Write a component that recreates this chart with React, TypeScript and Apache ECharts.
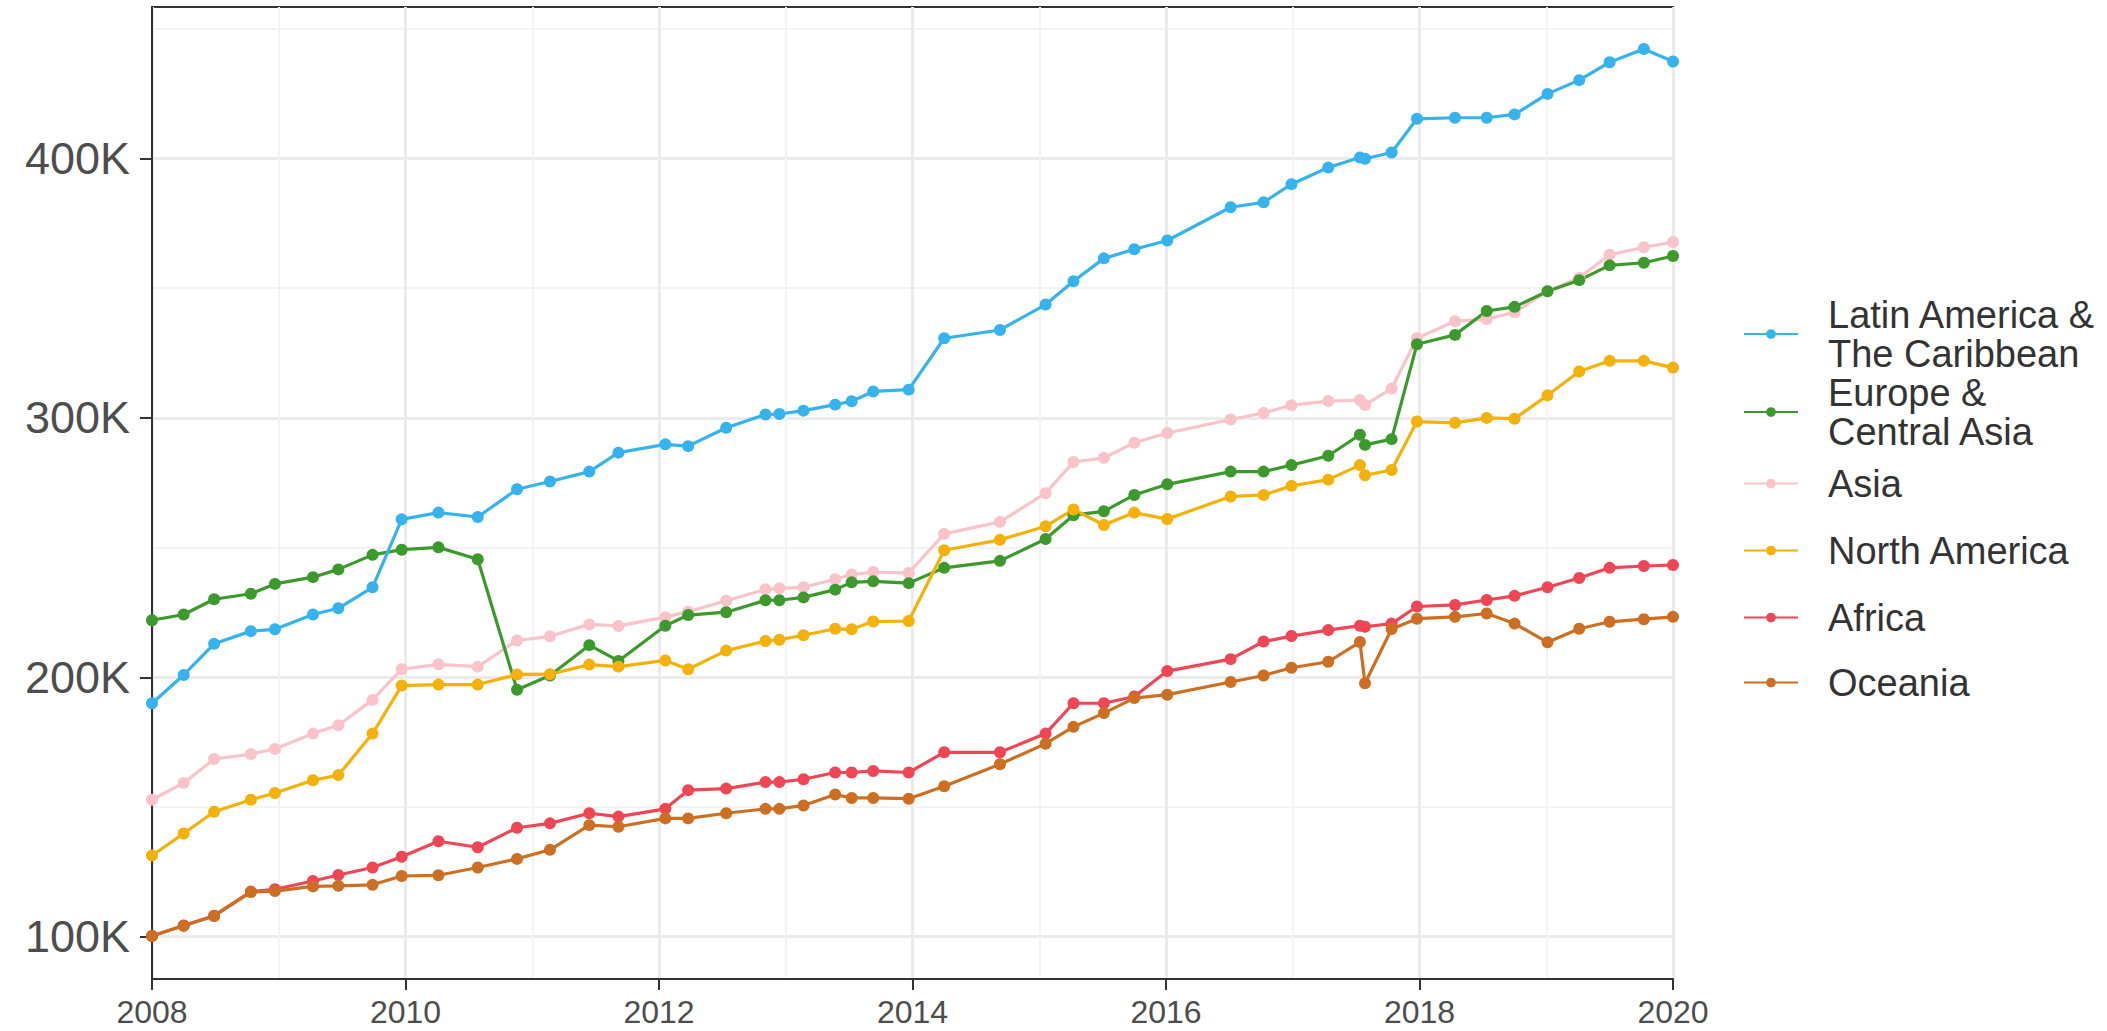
import React, { useEffect, useRef } from "react";
import * as echarts from "echarts";

// Decimal-year observation dates
const dates: number[] = [
  2008.0, 2008.25, 2008.49, 2008.78, 2008.97, 2009.27, 2009.47, 2009.74, 2009.97, 2010.26,
  2010.57, 2010.88, 2011.14, 2011.45, 2011.68, 2012.05, 2012.23, 2012.53, 2012.84, 2012.95,
  2013.14, 2013.39, 2013.52, 2013.69, 2013.97, 2014.25, 2014.69, 2015.05, 2015.27, 2015.51,
  2015.75, 2016.01, 2016.51, 2016.77, 2016.99, 2017.28, 2017.53, 2017.57, 2017.78, 2017.98,
  2018.28, 2018.53, 2018.75, 2019.01, 2019.26, 2019.5, 2019.77, 2020.0,
];

const latinAmerica: number[] = [
  190000, 200900, 212900, 217800, 218500, 224200, 226600, 234700, 260900, 263500,
  261800, 272500, 275500, 279300, 286600, 289800, 289100, 296200, 301300, 301500,
  302800, 305100, 306400, 310200, 310900, 330700, 333900, 343700, 352700, 361500,
  365000, 368400, 381200, 383100, 390100, 396500, 400400, 399900, 402300, 415300,
  415700, 415700, 417000, 424900, 430200, 437100, 442200, 437400,
];

const europe: number[] = [
  222000, 224200, 230100, 232200, 236000, 238600, 241600, 247200, 249200, 250100,
  245500, 195200, 200700, 212400, 206300, 219900, 224000, 225100, 229700, 229700,
  230800, 233800, 236600, 237000, 236300, 242200, 244900, 253300, 262500, 264000,
  270300, 274400, 279300, 279300, 281800, 285400, 293500, 289600, 291800, 328400,
  332000, 341200, 342800, 348800, 353100, 358800, 359800, 362400,
];

const asia: number[] = [
  152800, 159300, 168500, 170400, 172400, 178300, 181500, 191300, 203100, 205000,
  204100, 214200, 215800, 220400, 219800, 223200, 225300, 229500, 233900, 234300,
  234700, 237800, 239600, 240600, 240200, 255300, 259900, 271000, 283000, 284600,
  290400, 294200, 299400, 301900, 304900, 306500, 306900, 305000, 311300, 330700,
  337300, 338100, 340700, 348800, 354000, 362900, 365800, 367800,
];

const northAmerica: number[] = [
  131300, 139800, 148200, 152800, 155400, 160300, 162300, 178300, 196800, 197200,
  197200, 201100, 201200, 204900, 204100, 206500, 203100, 210300, 214000, 214500,
  216200, 218700, 218500, 221500, 221700, 249000, 253000, 258200, 264700, 258700,
  263500, 261000, 269700, 270300, 273800, 276200, 281800, 277900, 279900, 298600,
  298100, 300000, 299700, 308700, 317900, 322000, 322000, 319400,
];

const africa: number[] = [
  100300, 104300, 108100, 117400, 118300, 121500, 123800, 126700, 130800, 136800,
  134500, 142000, 143700, 147600, 146300, 149300, 156500, 157100, 159600, 159600,
  160700, 163300, 163300, 163900, 163300, 171100, 171100, 178300, 190000, 190000,
  192600, 202400, 207000, 213800, 215900, 218200, 219900, 219500, 220700, 227300,
  227900, 229800, 231400, 234700, 238300, 242200, 242900, 243300,
];

const oceania: number[] = [
  100300, 104200, 108000, 117200, 117600, 119400, 119600, 120000, 123400, 123700,
  126700, 130000, 133500, 143000, 142400, 145600, 145600, 147600, 149300, 149300,
  150600, 154800, 153500, 153500, 153200, 158000, 166500, 174400, 180900, 186200,
  192000, 193300, 198200, 200700, 203700, 206000, 213600, 197700, 218600, 222600,
  223300, 224600, 220700, 213500, 218700, 221400, 222400, 223300,
];

const yMajorTicks: number[] = [100000, 200000, 300000, 400000];
const yMinorTicks: number[] = [150000, 250000, 350000, 450000];

// Drawing order (later on top), alphabetical like ggplot
const seriesDefs = [
  { name: "Africa", values: africa, color: "#ef4656" },
  { name: "Asia", values: asia, color: "#f9c3c9" },
  { name: "Europe & Central Asia", values: europe, color: "#3c9a2c" },
  { name: "Latin America & The Caribbean", values: latinAmerica, color: "#36b2ec" },
  { name: "North America", values: northAmerica, color: "#f4b10b" },
  { name: "Oceania", values: oceania, color: "#cd6f22" },
];

// Legend order and display labels
const legendOrder: string[] = [
  "Latin America & The Caribbean",
  "Europe & Central Asia",
  "Asia",
  "North America",
  "Africa",
  "Oceania",
];
const legendLabels: Record<string, string> = {
  "Latin America & The Caribbean": "Latin America &\nThe Caribbean",
  "Europe & Central Asia": "Europe &\nCentral Asia",
  Asia: "Asia",
  "North America": "North America",
  Africa: "Africa",
  Oceania: "Oceania",
};
const legendTops: number[] = [295, 373, 464, 531, 598, 663];

const FONT = "'Liberation Sans', Arial, Helvetica, sans-serif";

export default function App() {
  const ref = useRef<HTMLDivElement>(null);

  useEffect(() => {
    if (!ref.current) return;
    const chart = echarts.init(ref.current, undefined, { renderer: "svg" });

    const series = seriesDefs.map((s) => ({
      name: s.name,
      type: "line",
      data: dates.map((d, i) => [d, s.values[i]]),
      symbol: "circle",
      symbolSize: 12,
      showSymbol: true,
      color: s.color,
      lineStyle: { width: 3.2, color: s.color },
      itemStyle: { color: s.color },
      clip: true,
      yAxisIndex: 0,
    }));

    const legends = legendOrder.map((name, i) => ({
      data: [name],
      orient: "vertical",
      left: 1743,
      top: legendTops[i],
      padding: 0,
      itemWidth: 54,
      itemHeight: 12,
      selectedMode: false,
      formatter: (n: string) => legendLabels[n] || n,
      textStyle: {
        fontSize: 38,
        lineHeight: 39,
        color: "#333333",
        fontFamily: FONT,
        padding: [0, 0, 0, 25],
      },
    }));

    const option: any = {
      animation: false,
      backgroundColor: "#ffffff",
      grid: {
        left: 152,
        top: 7,
        width: 1521,
        height: 972,
        show: true,
        borderColor: "#333333",
        borderWidth: 2,
        backgroundColor: "transparent",
        containLabel: false,
      },
      legend: legends,
      xAxis: {
        type: "value",
        min: 2008,
        max: 2020,
        interval: 2,
        axisLine: { show: true, onZero: false, lineStyle: { color: "#333333", width: 2 } },
        axisTick: { show: true, length: 11, lineStyle: { color: "#333333", width: 2 } },
        axisLabel: {
          fontSize: 32,
          color: "#4d4d4d",
          margin: 17,
          fontFamily: FONT,
          formatter: (v: number) => String(v),
        },
        splitLine: { show: true, lineStyle: { color: "#ebebeb", width: 3 } },
        minorTick: { show: false, splitNumber: 2 },
        minorSplitLine: { show: true, lineStyle: { color: "#f3f3f3", width: 2 } },
      },
      yAxis: [
        {
          type: "value",
          min: 83700,
          max: 458400,
          position: "left",
          axisLine: { show: true, onZero: false, lineStyle: { color: "#333333", width: 2 } },
          axisTick: {
            show: true,
            length: 12,
            customValues: yMajorTicks,
            lineStyle: { color: "#333333", width: 2 },
          },
          axisLabel: {
            customValues: yMajorTicks,
            fontSize: 45,
            color: "#4d4d4d",
            margin: 22,
            fontFamily: FONT,
            formatter: (v: number) => Math.round(v / 1000) + "K",
          },
          splitLine: { show: true, lineStyle: { color: "#ebebeb", width: 3 } },
        },
        {
          type: "value",
          min: 83700,
          max: 458400,
          position: "right",
          axisLine: { show: false },
          axisTick: { show: false, customValues: yMinorTicks },
          axisLabel: { show: false, customValues: yMinorTicks },
          splitLine: { show: true, lineStyle: { color: "#f3f3f3", width: 2 } },
        },
      ],
      series,
    };

    chart.setOption(option);
    return () => {
      chart.dispose();
    };
  }, []);

  return (
    <div
      ref={ref}
      style={{ position: "absolute", left: 0, top: 0, width: 2107, height: 1031, background: "#ffffff" }}
    />
  );
}
